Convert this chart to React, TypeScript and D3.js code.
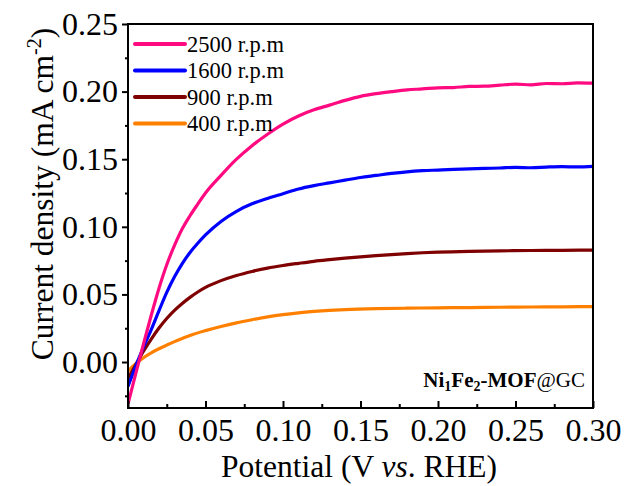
import React, { useEffect, useRef } from "react";
import * as d3 from "d3";

const W = 626;
const H = 486;

const xs2500 = [0, 0.005, 0.01, 0.015, 0.02, 0.025, 0.03, 0.035, 0.04, 0.045, 0.05, 0.06, 0.07, 0.08, 0.09, 0.10, 0.11, 0.12, 0.13, 0.14, 0.15, 0.16, 0.17, 0.18, 0.19, 0.20, 0.21, 0.22, 0.23, 0.24, 0.25, 0.26, 0.27, 0.28, 0.29, 0.30];
const rpm2500 = [-0.031, -0.0085, 0.0134, 0.0346, 0.0546, 0.072, 0.0862, 0.0985, 0.1082, 0.1168, 0.125, 0.138, 0.1500, 0.160, 0.1685, 0.176, 0.182, 0.1865, 0.190, 0.1935, 0.1965, 0.1985, 0.2, 0.2013, 0.202, 0.2028, 0.203, 0.2038, 0.204, 0.2048, 0.2055, 0.205, 0.206, 0.2058, 0.2065, 0.2062];

const xs1600 = [0, 0.005, 0.01, 0.015, 0.02, 0.025, 0.03, 0.035, 0.04, 0.045, 0.05, 0.06, 0.07, 0.08, 0.09, 0.10, 0.11, 0.12, 0.13, 0.14, 0.15, 0.16, 0.17, 0.18, 0.19, 0.20, 0.21, 0.22, 0.23, 0.24, 0.25, 0.26, 0.27, 0.28, 0.29, 0.30];
const rpm1600 = [-0.018, -0.003, 0.011, 0.024, 0.038, 0.0515, 0.063, 0.0728, 0.081, 0.0878, 0.094, 0.104, 0.1115, 0.117, 0.121, 0.1245, 0.128, 0.1305, 0.1325, 0.1345, 0.1365, 0.138, 0.1395, 0.1407, 0.1415, 0.142, 0.1425, 0.1428, 0.1432, 0.1435, 0.144, 0.1437, 0.1442, 0.1445, 0.1443, 0.1447];

const xs900 = [0, 0.005, 0.01, 0.015, 0.02, 0.025, 0.03, 0.035, 0.04, 0.045, 0.05, 0.06, 0.07, 0.08, 0.09, 0.10, 0.11, 0.12, 0.13, 0.14, 0.15, 0.16, 0.17, 0.18, 0.19, 0.20, 0.22, 0.24, 0.26, 0.28, 0.30];
const rpm900 = [-0.012, -0.002, 0.008, 0.017, 0.0252, 0.0322, 0.0382, 0.0433, 0.0478, 0.0518, 0.0552, 0.0602, 0.0640, 0.0670, 0.0695, 0.0714, 0.073, 0.0745, 0.0757, 0.0768, 0.0778, 0.0787, 0.0795, 0.0802, 0.0808, 0.0813, 0.0819, 0.0822, 0.0825, 0.0826, 0.0828];

const xs400 = [0, 0.005, 0.01, 0.015, 0.02, 0.025, 0.03, 0.035, 0.04, 0.05, 0.06, 0.07, 0.08, 0.09, 0.10, 0.11, 0.12, 0.13, 0.14, 0.16, 0.18, 0.20, 0.22, 0.24, 0.26, 0.28, 0.30];
const rpm400 = [-0.0067, -0.0012, 0.0032, 0.0068, 0.0098, 0.0125, 0.0151, 0.0174, 0.0196, 0.0232, 0.0263, 0.0290, 0.0313, 0.0334, 0.0351, 0.0364, 0.0374, 0.0382, 0.0388, 0.0395, 0.0398, 0.0401, 0.0403, 0.0405, 0.0407, 0.0408, 0.041];

const seriesNames = ["2500 r.p.m", "1600 r.p.m", "900 r.p.m", "400 r.p.m"];
const seriesColors = ["#FF0A80", "#0000FF", "#7F0000", "#FF8000"];
const seriesXs = [xs2500, xs1600, xs900, xs400];
const seriesYs = [rpm2500, rpm1600, rpm900, rpm400];

const xTicks = [0, 0.05, 0.1, 0.15, 0.2, 0.25, 0.3];
const xMinorTicks = [0.025, 0.075, 0.125, 0.175, 0.225, 0.275];
const yTicks = [0, 0.05, 0.1, 0.15, 0.2, 0.25];
const yMinorTicks = [-0.025, 0.025, 0.075, 0.125, 0.175, 0.225];

const FONT = "'Liberation Serif', 'Times New Roman', serif";

export default function App() {
  const ref = useRef<SVGSVGElement | null>(null);

  useEffect(() => {
    const svg = d3.select(ref.current);
    svg.selectAll("*").remove();

    const left = 128, right = 593, top = 24, bottom = 408;
    const x = d3.scaleLinear().domain([0, 0.3]).range([left, right]);
    const y = d3.scaleLinear().domain([-0.034, 0.25]).range([bottom, top]);

    svg.append("rect").attr("width", W).attr("height", H).attr("fill", "#fff");

    const defs = svg.append("defs");
    defs.append("clipPath").attr("id", "plotclip")
      .append("rect").attr("x", left).attr("y", top).attr("width", right - left).attr("height", bottom - top);

    // curves
    const line = d3.line<[number, number]>()
      .x((d) => x(d[0]))
      .y((d) => y(d[1]))
      .curve(d3.curveMonotoneX);
    const g = svg.append("g").attr("clip-path", "url(#plotclip)");
    for (let i = seriesNames.length - 1; i >= 0; i--) {
      const pts: [number, number][] = seriesXs[i].map((v, j) => [v, seriesYs[i][j]]);
      g.append("path")
        .attr("d", line(pts) as string)
        .attr("fill", "none")
        .attr("stroke", seriesColors[i])
        .attr("stroke-width", 3.2)
        .attr("stroke-linejoin", "round");
    }

    // x axis
    const xAxis = d3.axisBottom(x).tickValues(xTicks).tickFormat(d3.format(".2f")).tickSize(-7).tickPadding(10);
    const gx = svg.append("g").attr("transform", `translate(0,${bottom})`).call(xAxis);
    const xMinor = d3.axisBottom(x).tickValues(xMinorTicks).tickFormat(() => "").tickSize(-4);
    const gxm = svg.append("g").attr("transform", `translate(0,${bottom})`).call(xMinor);

    // y axis
    const yAxis = d3.axisLeft(y).tickValues(yTicks).tickFormat(d3.format(".2f")).tickSize(6).tickPadding(4);
    const gy = svg.append("g").attr("transform", `translate(${left},0)`).call(yAxis);
    const yMinor = d3.axisLeft(y).tickValues(yMinorTicks).tickFormat(() => "").tickSize(3);
    const gym = svg.append("g").attr("transform", `translate(${left},0)`).call(yMinor);

    [gx, gxm, gy, gym].forEach((ax) => {
      ax.select(".domain").remove();
      ax.selectAll("line").attr("stroke", "#000").attr("stroke-width", 2);
      ax.selectAll("text").attr("font-family", FONT).attr("font-size", 32).attr("fill", "#000");
    });

    // frame
    svg.append("rect")
      .attr("x", left).attr("y", top).attr("width", right - left).attr("height", bottom - top)
      .attr("fill", "none").attr("stroke", "#000").attr("stroke-width", 2);

    // x title
    const xt = svg.append("text")
      .attr("x", 359).attr("y", 477)
      .attr("text-anchor", "middle")
      .attr("font-family", FONT).attr("font-size", 31.5).attr("fill", "#000");
    xt.append("tspan").text("Potential (V ");
    xt.append("tspan").attr("font-style", "italic").text("vs");
    xt.append("tspan").text(". RHE)");

    // y title
    const yt = svg.append("text")
      .attr("transform", `translate(53,194) rotate(-90)`)
      .attr("text-anchor", "middle")
      .attr("font-family", FONT).attr("font-size", 31.5).attr("fill", "#000");
    yt.append("tspan").text("Current density (mA cm");
    yt.append("tspan").attr("font-size", 20).attr("dy", -12).text("-2");
    yt.append("tspan").attr("dy", 12).text(")");

    // legend
    const legendY = [44, 70.5, 97, 123.5];
    seriesNames.forEach((name, i) => {
      svg.append("line")
        .attr("x1", 135).attr("x2", 185)
        .attr("y1", legendY[i]).attr("y2", legendY[i])
        .attr("stroke", seriesColors[i]).attr("stroke-width", 4).attr("stroke-linecap", "round");
      svg.append("text")
        .attr("x", 187).attr("y", legendY[i]).attr("dy", "0.34em")
        .attr("font-family", FONT).attr("font-size", 22.5).attr("fill", "#000")
        .text(name);
    });

    // annotation
    const an = svg.append("text")
      .attr("x", 585).attr("y", 387)
      .attr("text-anchor", "end")
      .attr("font-family", FONT).attr("font-size", 21).attr("fill", "#000");
    an.append("tspan").attr("font-weight", "bold").text("Ni");
    an.append("tspan").attr("font-weight", "bold").attr("font-size", 14).attr("dy", 4).text("1");
    an.append("tspan").attr("font-weight", "bold").attr("dy", -4).text("Fe");
    an.append("tspan").attr("font-weight", "bold").attr("font-size", 14).attr("dy", 4).text("2");
    an.append("tspan").attr("font-weight", "bold").attr("dy", -4).text("-MOF");
    an.append("tspan").text("@GC");
  }, []);

  return (
    <div style={{ position: "absolute", left: 0, top: 0, width: W, height: H }}>
      <svg ref={ref} width={W} height={H} style={{ display: "block" }} />
    </div>
  );
}
